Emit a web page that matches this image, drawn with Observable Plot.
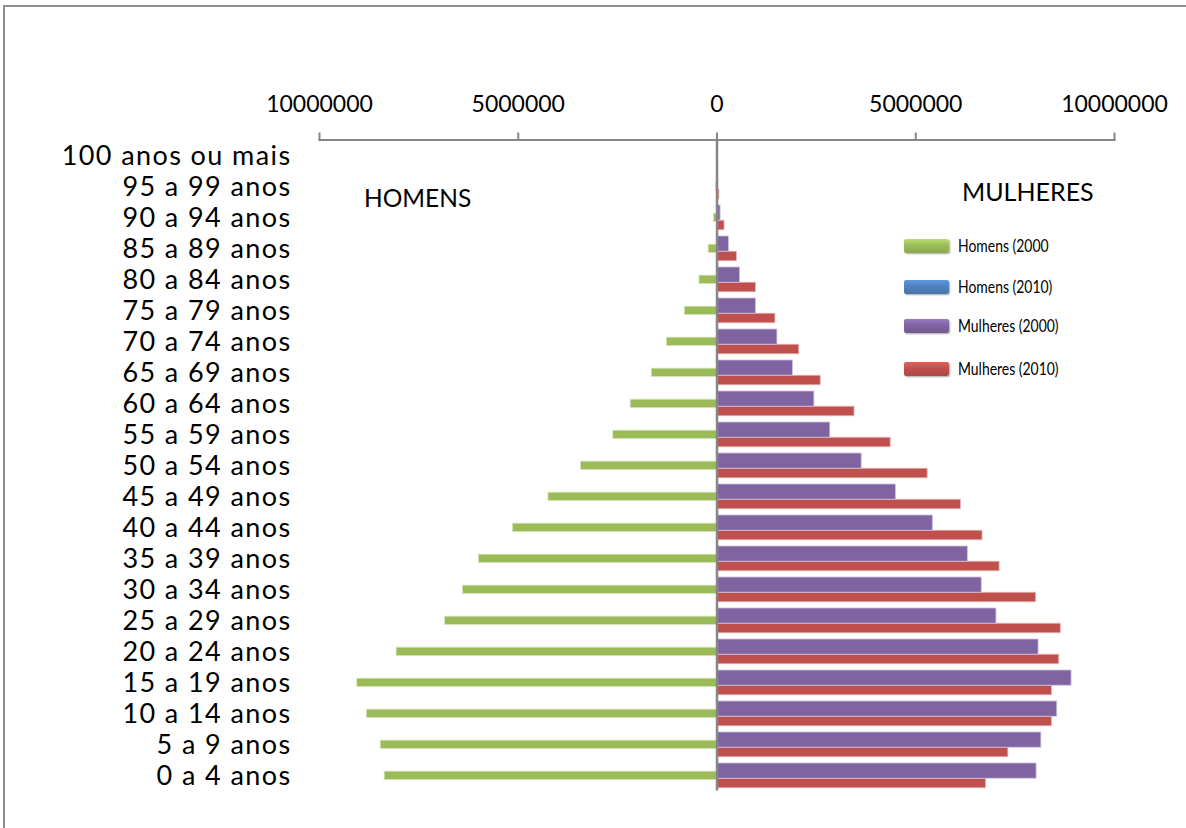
<!DOCTYPE html>
<html>
<head>
<meta charset="utf-8">
<script src="https://cdn.jsdelivr.net/npm/d3@7"></script>
<script src="https://cdn.jsdelivr.net/npm/@observablehq/plot@0.6"></script>
<style>
  html, body { margin: 0; padding: 0; background: #fff; overflow: hidden; }
  #wrap { position: relative; width: 1186px; height: 828px; font-family: Lato, "Open Sans", sans-serif; }
  #chart { position: absolute; left: 0; top: 0; }
  #frame { position: absolute; left: 3px; top: 5px; width: 1200px; height: 840px;
           border-left: 2px solid #8e8e8e; border-top: 2px solid #8e8e8e; pointer-events: none; }
  .side { position: absolute; font-size: 24px; color: #000; white-space: nowrap; }
  #legend { position: absolute; left: 904px; top: 0; }
  .item { position: absolute; left: 0; white-space: nowrap; }
  .sw { position: absolute; left: 0; width: 45px; height: 14px; border-radius: 2px;
        box-shadow: 1px 1px 2px rgba(0,0,0,0.35); }
  .lt { position: absolute; left: 54px; font-size: 17px; color: #000; transform-origin: 0 50%;
        transform: scaleX(0.82); line-height: 20px; }
  #chart svg g[aria-label="y-axis tick label"] text { letter-spacing: 1.4px; }
</style>
</head>
<body>
<div id="wrap">
  <div id="chart"></div>
  <div class="side" id="lh" style="left:364px; top:183px; font-size:24.5px;">HOMENS</div>
  <div class="side" id="lm" style="left:962px; top:176px; font-size:25px;">MULHERES</div>
  <div id="legend"></div>
  <div id="frame"></div>
</div>
<script>
// Age groups, youngest first
const categories = [
  "0 a 4 anos", "5 a 9 anos", "10 a 14 anos", "15 a 19 anos", "20 a 24 anos",
  "25 a 29 anos", "30 a 34 anos", "35 a 39 anos", "40 a 44 anos", "45 a 49 anos",
  "50 a 54 anos", "55 a 59 anos", "60 a 64 anos", "65 a 69 anos", "70 a 74 anos",
  "75 a 79 anos", "80 a 84 anos", "85 a 89 anos", "90 a 94 anos", "95 a 99 anos",
  "100 anos ou mais"
];
// Population values (people)
const homens2000 = [
  8360000, 8460000, 8810000, 9050000, 8060000,
  6840000, 6390000, 5990000, 5130000, 4240000,
  3420000, 2610000, 2170000, 1640000, 1260000,
  810000, 440000, 210000, 80000, 20000,
  8000
];
const homens2010 = []; // series listed in legend, no bars visible
const mulheres2000 = [
  8040000, 8160000, 8560000, 8920000, 8090000,
  7030000, 6660000, 6310000, 5430000, 4500000,
  3640000, 2850000, 2450000, 1910000, 1520000,
  980000, 580000, 300000, 90000, 30000,
  12000
];
const mulheres2010 = [
  6770000, 7330000, 8430000, 8430000, 8610000,
  8650000, 8030000, 7110000, 6680000, 6140000,
  5300000, 4370000, 3460000, 2610000, 2070000,
  1470000, 980000, 500000, 190000, 60000,
  15000
];
const tickValues = [-10000000, -5000000, 0, 5000000, 10000000];
const seriesNames = ["Homens (2000", "Homens (2010)", "Mulheres (2000)", "Mulheres (2010)"];
const seriesColors = ["#9BBB59", "#4F81BD", "#8064A2", "#C0504D"];

const rows = (vals, serie, sign) => vals.map((v, i) => ({faixa: categories[i], serie, valor: sign * v}));
const dH00 = rows(homens2000, seriesNames[0], -1);
const dH10 = rows(homens2010, seriesNames[1], -1);
const dM00 = rows(mulheres2000, seriesNames[2], 1);
const dM10 = rows(mulheres2010, seriesNames[3], 1);

const chart = Plot.plot({
  width: 1186,
  height: 828,
  marginTop: 139.5,
  marginBottom: 37.5,
  marginLeft: 319,
  marginRight: 72,
  style: {fontFamily: "Lato, 'Open Sans', sans-serif", color: "#000", background: "transparent"},
  x: {domain: [-10000000, 10000000], label: null},
  y: {type: "band", domain: categories.slice().reverse(), padding: 0, label: null},
  marks: [
    Plot.barX(dH00, {x: "valor", y: "faixa", fill: seriesColors[0], insetTop: 11.2, insetBottom: 11.5,
      stroke: "#d3e3b6", strokeWidth: 0.8}),
    Plot.barX(dH10, {x: "valor", y: "faixa", fill: seriesColors[1], insetTop: 11.2, insetBottom: 11.5}),
    Plot.barX(dM10, {x: "valor", y: "faixa", fill: seriesColors[3], insetTop: 18.2, insetBottom: 3.2,
      stroke: "#e6b9b8", strokeWidth: 0.8}),
    Plot.barX(dM00, {x: "valor", y: "faixa", fill: seriesColors[2], insetTop: 3, insetBottom: 12.8,
      stroke: "#cdc1de", strokeWidth: 0.8}),
    Plot.ruleX([0], {stroke: "#868686", strokeWidth: 2.5}),
    Plot.frame({anchor: "top", stroke: "#868686", strokeWidth: 2}),
    Plot.axisX({anchor: "top", ticks: tickValues, tickFormat: d => String(Math.abs(d)), label: null,
      tickSize: 8, tickPadding: 20, fontSize: 23, stroke: "#868686", strokeWidth: 2, fill: "#000"}),
    Plot.axisY({anchor: "left", tickSize: 0, tickPadding: 28, fontSize: 27, fill: "#000", label: null})
  ]
});
document.getElementById("chart").appendChild(chart);

// Legend (inside chart area, right side)
const legendTops = [239, 280, 319, 362];
const legend = document.getElementById("legend");
seriesNames.forEach((name, i) => {
  const item = document.createElement("div");
  item.className = "item";
  item.style.top = legendTops[i] + "px";
  const sw = document.createElement("div");
  sw.className = "sw";
  sw.style.background = `linear-gradient(${d3.color(seriesColors[i]).brighter(0.5)}, ${seriesColors[i]} 45%, ${d3.color(seriesColors[i]).darker(0.3)})`;
  item.appendChild(sw);
  const t = document.createElement("div");
  t.className = "lt";
  t.style.top = "-3px";
  t.textContent = name;
  item.appendChild(t);
  legend.appendChild(item);
});
</script>
</body>
</html>
